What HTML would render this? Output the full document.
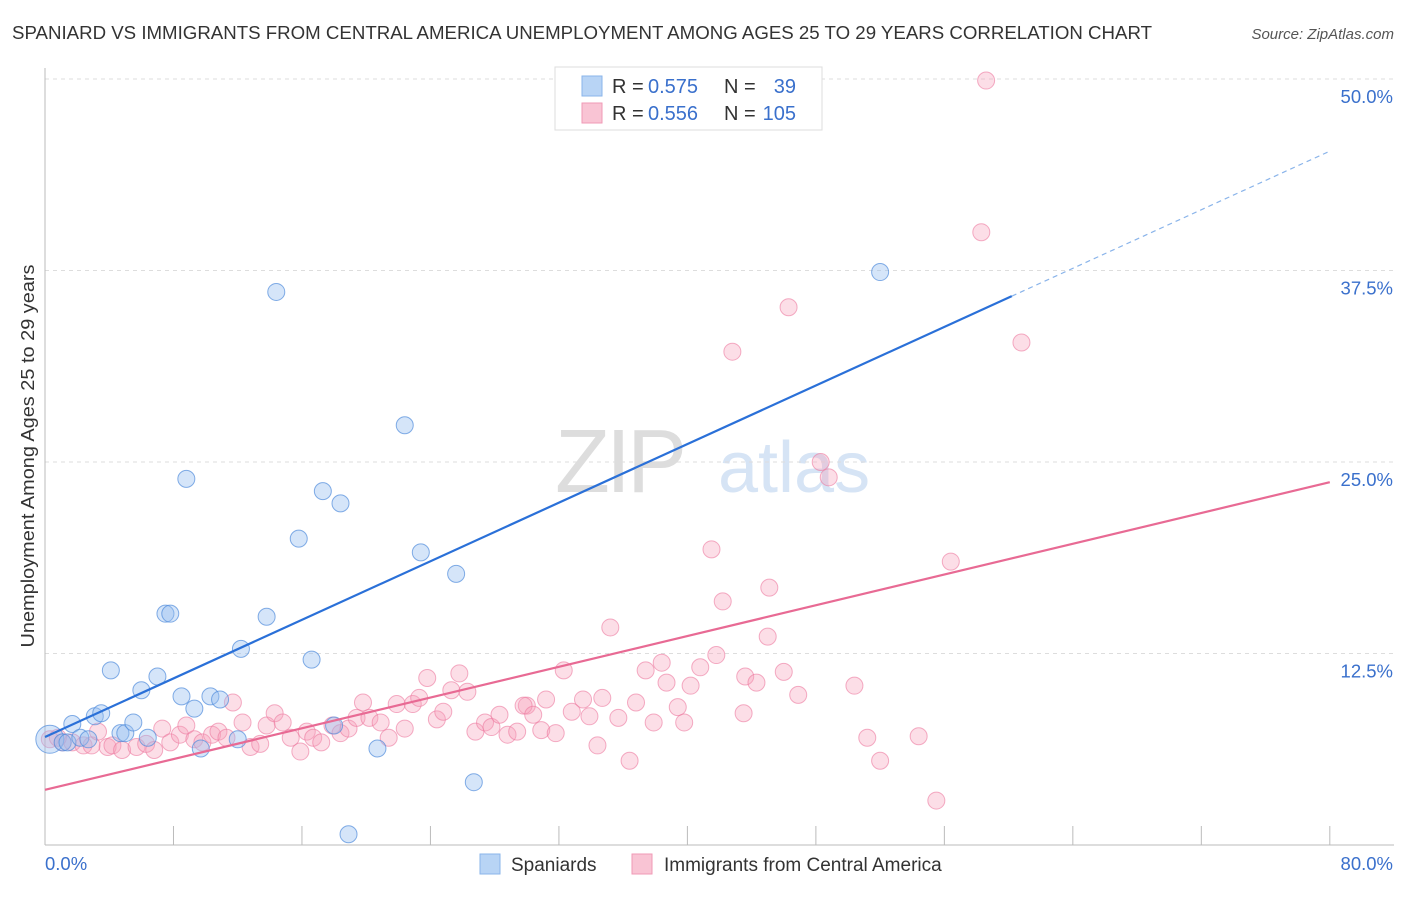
<!DOCTYPE html>
<html><head><meta charset="utf-8"><style>
body{margin:0;background:#fff;font-family:"Liberation Sans",sans-serif;}
svg text{font-family:"Liberation Sans",sans-serif;}
</style></head><body>
<svg width="1406" height="892" viewBox="0 0 1406 892" xmlns="http://www.w3.org/2000/svg">
<text x="12" y="39" font-size="18" fill="#333" textLength="1140" lengthAdjust="spacingAndGlyphs">SPANIARD VS IMMIGRANTS FROM CENTRAL AMERICA UNEMPLOYMENT AMONG AGES 25 TO 29 YEARS CORRELATION CHART</text>
<text x="1394" y="39" font-size="15" fill="#555" font-style="italic" text-anchor="end">Source: ZipAtlas.com</text>
<g>
<text x="555" y="492" font-size="90" fill="#ddd" font-family="Liberation Serif,serif" letter-spacing="-4">ZIP</text>
<text x="718" y="492" font-size="72" fill="#d6e4f5">atlas</text>
</g>
<g id="grid"></g>
<g id="axes"></g>
<g id="marks"></g>
<text transform="translate(34,456) rotate(-90)" font-size="18" fill="#333" text-anchor="middle" textLength="383" lengthAdjust="spacingAndGlyphs">Unemployment Among Ages 25 to 29 years</text>
<g>
<rect x="555" y="67" width="267" height="63" fill="#fff" stroke="#ddd"/>
<rect x="582" y="76" width="20" height="20" fill="#b8d4f5" stroke="#8ab4ea"/>
<rect x="582" y="103" width="20" height="20" fill="#f9c4d4" stroke="#f09ab6"/>
<text x="612" y="93" font-size="20" fill="#333">R =</text>
<text x="648" y="93" font-size="20" fill="#3a70cc">0.575</text>
<text x="724" y="93" font-size="20" fill="#333">N =</text>
<text x="796" y="93" font-size="20" fill="#3a70cc" text-anchor="end">39</text>
<text x="612" y="120" font-size="20" fill="#333">R =</text>
<text x="648" y="120" font-size="20" fill="#3a70cc">0.556</text>
<text x="724" y="120" font-size="20" fill="#333">N =</text>
<text x="796" y="120" font-size="20" fill="#3a70cc" text-anchor="end">105</text>
</g>
<g>
<rect x="480" y="854" width="20" height="20" fill="#b8d4f5" stroke="#8ab4ea"/>
<text x="511" y="871" font-size="19" fill="#333">Spaniards</text>
<rect x="632" y="854" width="20" height="20" fill="#f9c4d4" stroke="#f09ab6"/>
<text x="664" y="871" font-size="19" fill="#333">Immigrants from Central America</text>
</g>
</svg>
<script>
const yTicks=[12.5,25,37.5,50];
const yTickLabels=["12.5%","25.0%","37.5%","50.0%"];
const xTicks=[0,8,16,24,32,40,48,56,64,72,80];
const xTickLabels=["0.0%","80.0%"];
const blueX=[0.3,1.1,1.4,1.7,2.2,2.7,3.1,3.5,4.1,4.7,5.0,5.5,6.0,6.4,7.0,7.5,7.8,8.5,8.8,9.3,9.7,10.3,10.9,12.0,12.2,13.8,14.4,15.8,16.6,17.3,18.0,18.4,18.9,20.7,22.4,23.4,25.6,26.7,52.0];
const blueY=[6.9,6.7,6.7,7.9,7.0,6.9,8.4,8.6,11.4,7.3,7.3,8.0,10.1,7.0,11.0,15.1,15.1,9.7,23.9,8.9,6.3,9.7,9.5,6.9,12.8,14.9,36.1,20.0,12.1,23.1,7.8,22.3,0.7,6.3,27.4,19.1,17.7,4.1,37.4];
const pinkX=[0.3,1.1,1.7,2.4,2.9,3.3,3.9,4.2,4.8,5.7,6.3,6.8,7.3,7.8,8.4,8.8,9.3,9.8,10.4,10.8,11.3,11.7,12.3,12.8,13.4,13.8,14.3,14.8,15.3,15.9,16.3,16.7,17.2,17.9,18.4,18.9,19.4,19.8,20.2,20.9,21.4,21.9,22.4,22.9,23.3,23.8,24.4,24.8,25.3,25.8,26.3,26.8,27.4,27.8,28.3,28.8,29.4,30.0,29.8,30.4,30.9,31.2,31.8,32.3,32.8,33.5,33.9,34.4,34.7,35.2,35.7,36.4,36.8,37.4,37.9,38.4,38.7,39.4,39.8,40.2,40.8,41.5,41.8,42.2,42.8,43.5,43.6,44.3,45.0,45.1,46.0,46.3,46.9,48.3,48.8,50.4,51.2,52.0,54.4,55.5,56.4,58.3,58.6,60.8,0.8];
const pinkY=[6.9,6.7,6.7,6.5,6.5,7.4,6.4,6.5,6.2,6.4,6.6,6.2,7.6,6.7,7.2,7.8,6.9,6.7,7.2,7.4,7.0,9.3,8.0,6.4,6.6,7.8,8.6,8.0,7.0,6.1,7.4,7.0,6.7,7.8,7.3,7.6,8.3,9.3,8.3,8.0,7.0,9.2,7.6,9.2,9.6,10.9,8.2,8.7,10.1,11.2,10.0,7.4,8.0,7.7,8.5,7.2,7.4,9.1,9.1,8.5,7.5,9.5,7.3,11.4,8.7,9.5,8.4,6.5,9.6,14.2,8.3,5.5,9.3,11.4,8.0,11.9,10.6,9.0,8.0,10.4,11.6,19.3,12.4,15.9,32.2,8.6,11.0,10.6,13.6,16.8,11.3,35.1,9.8,25.0,24.0,10.4,7.0,5.5,7.1,2.9,18.5,40.0,49.9,32.8,7.0];
const blueTrend=[7.05,0.478]; // intercept, slope
const pinkTrend=[3.6,0.251];
const X=v=>45+v*16.06, Y=v=>845-v*15.32;
const NS="http://www.w3.org/2000/svg";
function mk(tag,attrs,parent){const e=document.createElementNS(NS,tag);for(const k in attrs)e.setAttribute(k,attrs[k]);parent.appendChild(e);return e;}
const grid=document.getElementById('grid'),axes=document.getElementById('axes'),marks=document.getElementById('marks');
yTicks.forEach((t,i)=>{
 const l=mk('line',{x1:45,x2:1394,y1:Y(t),y2:Y(t),stroke:'#ddd','stroke-dasharray':'4,4'},grid);
 
 
 const tx=mk('text',{x:1393,y:Y(t)+24,'font-size':18.5,fill:'#3a70cc','text-anchor':'end'},axes);
 tx.textContent=yTickLabels[i];
 
 
});
const ax=mk('line',{x1:45,x2:1394,y1:845,y2:845,stroke:'#bbb'},axes);


const ay=mk('line',{x1:45,x2:45,y1:68,y2:845,stroke:'#bbb'},axes);


xTicks.forEach(t=>{if(t===0)return;const l=mk('line',{x1:X(t),x2:X(t),y1:826,y2:845,stroke:'#bbb'},axes);
 
 });
const xl0=mk('text',{x:45,y:870,'font-size':18.5,fill:'#3a70cc'},axes);xl0.textContent=xTickLabels[0];


const xl1=mk('text',{x:1393,y:870,'font-size':18.5,fill:'#3a70cc','text-anchor':'end'},axes);xl1.textContent=xTickLabels[1];


pinkX.forEach((x,i)=>{const c=mk('circle',{cx:X(x),cy:Y(pinkY[i]),r:8.5,fill:'rgba(246,160,186,0.35)',stroke:'rgba(236,120,158,0.6)','stroke-width':1},marks);
 
 });
blueX.forEach((x,i)=>{const c=mk('circle',{cx:X(x),cy:Y(blueY[i]),r:i===0?14:8.5,fill:'rgba(150,190,240,0.4)',stroke:'rgba(80,140,220,0.7)','stroke-width':1},marks);
 
 });
const bl=mk('line',{x1:X(0),y1:Y(blueTrend[0]),x2:X(60.2),y2:Y(blueTrend[0]+blueTrend[1]*60.2),stroke:'#2a70d8','stroke-width':2.2},marks);


const bd=mk('line',{x1:X(60.2),y1:Y(blueTrend[0]+blueTrend[1]*60.2),x2:X(80),y2:Y(blueTrend[0]+blueTrend[1]*80),stroke:'#8ab4ea','stroke-width':1.2,'stroke-dasharray':'5,4'},marks);


const pl=mk('line',{x1:X(0),y1:Y(pinkTrend[0]),x2:X(80),y2:Y(pinkTrend[0]+pinkTrend[1]*80),stroke:'#e86a94','stroke-width':2.2},marks);


</script>
</body></html>
